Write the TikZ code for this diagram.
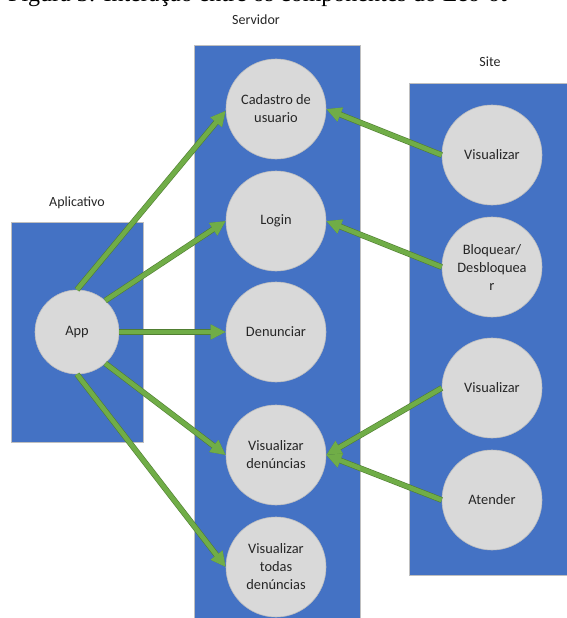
\documentclass[tikz,border=0pt]{standalone}
\usepackage{fontspec}
\setmainfont{Carlito}
\newfontfamily\capfont{Liberation Serif}
\usetikzlibrary{arrows.meta}
\definecolor{boxblue}{HTML}{4472C4}
\definecolor{circgray}{HTML}{D9D9D9}
\definecolor{circedge}{HTML}{BFBFBF}
\definecolor{arrgreen}{HTML}{70AD47}
\definecolor{arredge}{HTML}{507E32}
\tikzset{
  panel/.style={fill=boxblue, draw=circedge, line width=0.8pt},
  func/.style={circle, fill=circgray, draw=circedge, line width=0.6pt, minimum size=100pt, inner sep=0pt, align=center, font=\fontsize{14.4}{18}\selectfont, text=black!85},
  paneltitle/.style={font=\fontsize{14}{16}\selectfont, text=black!85},
  link/.style={draw=arrgreen, line width=4.6pt, -{Triangle[length=15pt,width=14pt]},
    preaction={draw=arredge, line width=5.8pt, -{Triangle[length=15pt,width=14pt]}}}
}
\begin{document}
\begin{tikzpicture}[x=1pt, y=-1pt]
\useasboundingbox (0,0) rectangle (566,618);
\fill[white] (0,0) rectangle (566,618);
% caption (cut off at top)
\node[anchor=base west, inner sep=0pt, font=\capfont\fontsize{24}{28}\selectfont] (cap) at (8,2) {Figura 3: Interação entre os componentes do Leo-ot};
% panels
\draw[panel] (11,222) rectangle (143,442);
\draw[panel] (194,45) rectangle (360,622);
\draw[panel] (409,83) rectangle (570,575);
\node[paneltitle] (tapp) at (77,203) {Aplicativo};
\node[paneltitle] (tsrv) at (256,20) {Servidor};
\node[paneltitle] (tsite) at (490,62) {Site};
% app
\node[func, minimum size=84pt] (app) at (77,332) {App};
% server
\node[func] (cad) at (276,109) {Cadastro de\\usuario};
\node[func] (log) at (276,221) {Login};
\node[func] (den) at (276,332) {Denunciar};
\node[func] (vden) at (276,455) {Visualizar\\denúncias};
\node[func] (vtod) at (276,567) {Visualizar\\todas\\denúncias};
% site
\node[func] (svis) at (492,155) {Visualizar};
\node[func] (sblo) at (492,267) {Bloquear/\\Desbloquea\\r};
\node[func] (svis2) at (492,388) {Visualizar};
\node[func] (sate) at (492,500) {Atender};
% connectors
\draw[link] (app.90) -- (cad.182);
\draw[link] (app.48) -- (log.180);
\draw[link] (app.0) -- (den.180);
\draw[link] (app.-48) -- (vden.180);
\draw[link] (app.-90) -- (vtod.180);
\draw[link] (svis.180) -- (cad.0);
\draw[link] (sblo.180) -- (log.0);
\draw[link] (svis2.180) -- (vden.0);
\draw[link] (sate.180) -- (vden.0);
\end{tikzpicture}
\end{document}
